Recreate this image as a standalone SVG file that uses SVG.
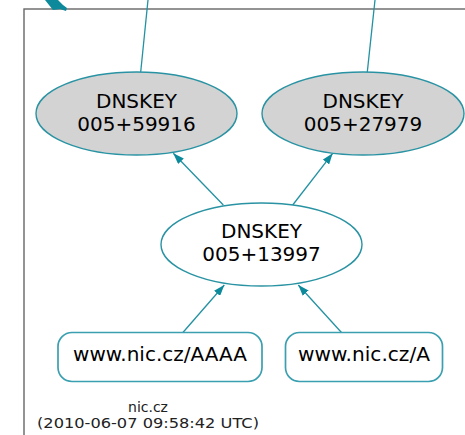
<svg xmlns="http://www.w3.org/2000/svg" width="465" height="435" viewBox="0 0 465 435">
<defs>
<style>
.n{stroke:#2a93a3;stroke-width:1.4}
.b{stroke:#3a9fb0;stroke-width:1.7}
.g{fill:#d3d3d3}
.w{fill:#ffffff}
.t{font-family:"DejaVu Sans",sans-serif;font-size:20px;fill:#000;text-anchor:middle}
.f{font-family:"DejaVu Sans",sans-serif;font-size:14px;fill:#222;text-anchor:middle}
.e{stroke:#2291a2;stroke-width:1.3;fill:none}
</style>
<marker id="ah" markerUnits="userSpaceOnUse" markerWidth="11" markerHeight="8" refX="11" refY="4" orient="auto">
<path d="M0,0 L11,4 L0,8 z" fill="#0c8a9c"/>
</marker>
</defs>
<rect width="465" height="435" fill="#ffffff"/>
<g id="cluster">
<rect x="24" y="9" width="460" height="440" fill="none" stroke="#666" stroke-width="1.4"/>
<text class="f" x="148" y="412">nic.cz</text>
<text class="f" x="148" y="428" textLength="222" lengthAdjust="spacingAndGlyphs">(2010-06-07 09:58:42 UTC)</text>
</g>
<g id="connectors">
<path class="e" d="M140.7,72 L148,0"/>
<path class="e" d="M367.3,72 L375,0"/>
<path class="e" d="M223.3,205 L173.3,153.3" marker-end="url(#ah)"/>
<path class="e" d="M292.7,205 L332.7,153.3" marker-end="url(#ah)"/>
<path class="e" d="M182.7,332.7 L224.3,285" marker-end="url(#ah)"/>
<path class="e" d="M341.7,332.7 L298.3,285" marker-end="url(#ah)"/>
<path d="M45,0 L58,0 L63,5 L67,8 L66,11 L60,9 L53,10 Z" fill="#0c8a9c"/>
</g>
<g id="k59916">
<ellipse class="n g" cx="136.5" cy="113.5" rx="100.5" ry="41.5"/>
<text class="t" x="136.5" y="107.5">DNSKEY</text>
<text class="t" x="136.5" y="130.5">005+59916</text>
</g>
<g id="k27979">
<ellipse class="n g" cx="363" cy="113.5" rx="101" ry="41.5"/>
<text class="t" x="363" y="107.5">DNSKEY</text>
<text class="t" x="363" y="130.5">005+27979</text>
</g>
<g id="k13997">
<ellipse class="n w" cx="261.5" cy="244.5" rx="100.5" ry="41.5"/>
<text class="t" x="261.5" y="237.5">DNSKEY</text>
<text class="t" x="261.5" y="260.5">005+13997</text>
</g>
<g id="aaaa">
<rect class="b w" x="58" y="332.5" width="204" height="49" rx="14" ry="14"/>
<text class="t" x="160" y="361" textLength="174" lengthAdjust="spacingAndGlyphs">www.nic.cz/AAAA</text>
</g>
<g id="a">
<rect class="b w" x="285.5" y="332.5" width="157" height="49" rx="14" ry="14"/>
<text class="t" x="364" y="361" textLength="132" lengthAdjust="spacingAndGlyphs">www.nic.cz/A</text>
</g>
</svg>
